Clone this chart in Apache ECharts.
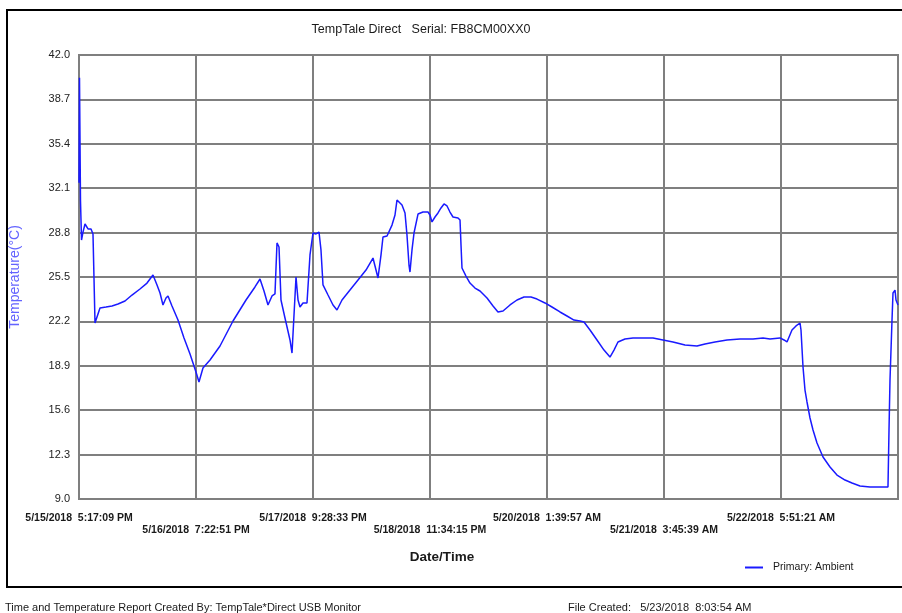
<!DOCTYPE html>
<html>
<head>
<meta charset="utf-8">
<script src="https://cdn.jsdelivr.net/npm/echarts@6/dist/echarts.min.js"></script>
<style>
html,body{margin:0;padding:0;background:#fff;}
#chart{width:902px;height:613px;}
</style>
</head>
<body>
<div id="chart"></div>
<script>
// ---- data ----
const chartTitle = 'TempTale Direct   Serial: FB8CM00XX0';
const seriesName = 'Primary: Ambient';
const startTime = [2018, 5, 15, 17, 17, 9]; // 5/15/2018 5:17:09 PM
const tickStepHours = 26.095;               // 26:05:42 between date ticks
const axisEndHours = 182.665;
const yTickLabels = [9.0, 12.3, 15.6, 18.9, 22.2, 25.5, 28.8, 32.1, 35.4, 38.7, 42.0];
const elapsedHours = [
  0.00, 0.11, 0.33, 0.56, 0.89, 1.34, 2.01, 2.68, 3.12, 3.57,
  4.68, 6.02, 7.36, 8.70, 10.26, 11.82, 13.60, 15.17, 16.50, 17.40,
  18.07, 18.73, 19.40, 19.85, 20.74, 22.08, 23.42, 24.76, 26.09, 26.76,
  27.65, 29.22, 31.45, 34.35, 37.25, 39.25, 40.37, 41.26, 42.15, 43.05,
  43.71, 44.16, 44.61, 45.05, 45.94, 47.06, 47.51, 48.40, 48.85, 49.29,
  49.96, 50.85, 51.52, 52.19, 52.86, 53.53, 53.97, 54.42, 55.54, 56.65,
  57.54, 58.66, 60.44, 62.23, 64.01, 65.57, 66.69, 67.36, 67.80, 68.70,
  69.81, 70.48, 70.92, 71.59, 72.04, 72.71, 73.15, 73.60, 73.82, 74.27,
  74.72, 75.61, 76.72, 77.84, 78.28, 78.73, 79.40, 80.07, 80.74, 81.41,
  82.08, 82.74, 83.41, 84.53, 84.98, 85.20, 85.42, 86.31, 87.20, 88.32,
  89.44, 91.00, 92.34, 93.45, 94.57, 96.13, 97.69, 99.25, 100.81, 102.15,
  103.93, 105.49, 107.28, 108.84, 110.40, 111.74, 112.63, 113.97, 115.53, 117.09,
  118.43, 119.32, 120.21, 121.77, 123.56, 125.79, 128.02, 130.25, 132.48, 135.16,
  137.83, 139.62, 141.85, 144.53, 147.43, 150.33, 152.56, 154.12, 156.35, 157.24,
  157.91, 159.02, 159.92, 160.81, 161.03, 161.48, 161.92, 162.37, 163.04, 163.71,
  164.60, 165.94, 167.50, 169.06, 170.85, 172.41, 174.19, 176.42, 178.65, 180.43,
  180.66, 180.88, 181.33, 181.55, 182.00, 182.22, 182.66
];
const tempC = [
  32.5, 40.3, 31.2, 28.25, 28.84, 29.44, 29.07, 29.07, 28.70, 22.08,
  23.20, 23.27, 23.35, 23.49, 23.72, 24.16, 24.61, 25.05, 25.65, 24.91,
  24.31, 23.42, 23.94, 24.09, 23.35, 22.30, 20.97, 19.78, 18.44, 17.70,
  18.74, 19.33, 20.37, 22.23, 23.79, 24.76, 25.35, 24.46, 23.42, 24.09,
  24.24, 28.03, 27.73, 23.79, 22.45, 20.82, 19.85, 25.50, 23.79, 23.27,
  23.57, 23.57, 27.14, 28.77, 28.70, 28.84, 27.51, 24.91, 24.16, 23.42,
  23.05, 23.79, 24.53, 25.28, 26.02, 26.91, 25.43, 27.14, 28.47, 28.55,
  29.36, 30.11, 31.22, 31.00, 30.85, 30.26, 28.62, 26.39, 25.87, 27.51,
  28.77, 30.18, 30.33, 30.33, 30.11, 29.59, 29.96, 30.26, 30.63, 30.93,
  30.78, 30.33, 29.96, 29.89, 29.74, 27.88, 26.17, 25.57, 25.05, 24.68,
  24.46, 23.94, 23.35, 22.90, 22.97, 23.42, 23.79, 24.01, 24.01, 23.86,
  23.57, 23.27, 22.90, 22.60, 22.30, 22.23, 22.16, 21.56, 20.82, 20.07,
  19.55, 20.07, 20.67, 20.89, 20.97, 20.97, 20.97, 20.82, 20.67, 20.45,
  20.37, 20.52, 20.67, 20.82, 20.89, 20.89, 20.97, 20.89, 20.97, 20.82,
  20.67, 21.56, 21.86, 22.08, 21.56, 18.81, 17.10, 16.21, 15.02, 14.13,
  13.16, 12.12, 11.38, 10.78, 10.41, 10.19, 9.97, 9.89, 9.89, 9.89,
  14.13, 17.85, 22.30, 24.31, 24.53, 23.79, 23.42
];
const footerLeft = 'Time and Temperature Report Created By: TempTale*Direct USB Monitor';
const footerRight = 'File Created:   5/23/2018  8:03:54 AM';
const xAxisTitle = 'Date/Time';
const yAxisTitle = 'Temperature(\u00B0C)';

// ---- helpers ----
const startMs = Date.UTC(startTime[0], startTime[1] - 1, startTime[2], startTime[3], startTime[4], startTime[5]);
function pad(n){ return (n < 10 ? '0' : '') + n; }
function fmtDate(hours){
  const d = new Date(startMs + Math.round(hours * 3600) * 1000);
  let h = d.getUTCHours();
  const ap = h >= 12 ? 'PM' : 'AM';
  h = h % 12; if (h === 0) h = 12;
  return (d.getUTCMonth() + 1) + '/' + d.getUTCDate() + '/' + d.getUTCFullYear() +
    '  ' + h + ':' + pad(d.getUTCMinutes()) + ':' + pad(d.getUTCSeconds()) + ' ' + ap;
}
const lineData = elapsedHours.map((h, i) => [h, tempC[i]]);
const FONT = '"Liberation Sans", Arial, sans-serif';

const chart = echarts.init(document.getElementById('chart'), null, {renderer: 'canvas'});
chart.setOption({
  animation: false,
  backgroundColor: '#ffffff',
  grid: {left: 79, right: 4, top: 55, bottom: 114, containLabel: false, outerBoundsMode: 'none',
         show: true, borderColor: '#7f7f7f', borderWidth: 2},
  legend: {
    data: [{name: seriesName, icon: 'rect'}],
    left: 745, top: 562, padding: 0,
    itemWidth: 18, itemHeight: 2,
    textStyle: {fontFamily: FONT, fontSize: 10.5, color: '#1a1a1a', padding: [0, 0, 0, 5]}
  },
  xAxis: {
    type: 'value',
    min: 0, max: axisEndHours, interval: tickStepHours,
    axisLine: {show: false},
    axisTick: {show: false},
    splitLine: {show: true, lineStyle: {color: '#7f7f7f', width: 2}},
    axisLabel: {
      show: true, interval: 0, margin: 13, lineHeight: 12,
      fontFamily: FONT, fontSize: 10.5, fontWeight: 'bold', color: '#1a1a1a',
      hideOverlap: false,
      formatter: function(v){
        const k = Math.round(v / tickStepHours);
        if (k >= 7) return '';
        const s = fmtDate(k * tickStepHours);
        return (k % 2 === 1) ? '\n' + s : s;
      }
    }
  },
  yAxis: {
    type: 'value',
    min: 9, max: 42,
    name: yAxisTitle, nameLocation: 'middle', nameGap: 57,
    nameTextStyle: {fontFamily: FONT, fontSize: 14, color: '#6464ff'},
    axisLine: {show: false},
    axisTick: {show: false, customValues: yTickLabels},
    splitLine: {show: true, lineStyle: {color: '#7f7f7f', width: 2}},
    axisLabel: {
      customValues: yTickLabels, margin: 9,
      fontFamily: FONT, fontSize: 11, color: '#222',
      formatter: function(v){ return Number(v).toFixed(1); }
    }
  },
  series: [{
    name: seriesName,
    type: 'line',
    data: lineData,
    showSymbol: false,
    symbol: 'none',
    lineStyle: {color: '#1a1aff', width: 1.5},
    itemStyle: {color: '#1a1aff'}
  }],
  graphic: [
    {type: 'rect', shape: {x: 7, y: 10, width: 910, height: 577}, style: {fill: 'none', stroke: '#000', lineWidth: 2}, silent: true},
    {type: 'text', x: 421, y: 30, style: {text: chartTitle, fontFamily: FONT, fontSize: 12.5, fill: '#1a1a1a', textAlign: 'center', textVerticalAlign: 'middle'}},
    {type: 'text', x: 442, y: 557, style: {text: xAxisTitle, fontFamily: FONT, fontSize: 13.5, fontWeight: 'bold', fill: '#1a1a1a', textAlign: 'center', textVerticalAlign: 'middle'}},
    {type: 'text', x: 5, y: 608, style: {text: footerLeft, fontFamily: FONT, fontSize: 11, fill: '#1a1a1a', textAlign: 'left', textVerticalAlign: 'middle'}},
    {type: 'text', x: 568, y: 608, style: {text: footerRight, fontFamily: FONT, fontSize: 11, fill: '#1a1a1a', textAlign: 'left', textVerticalAlign: 'middle'}}
  ]
});
</script>
</body>
</html>
